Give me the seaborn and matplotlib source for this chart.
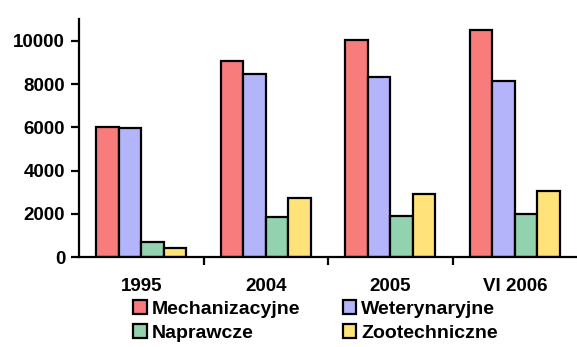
import numpy as np
import pandas as pd
import seaborn as sns
import matplotlib.pyplot as plt
from matplotlib.patches import Patch

# ───── Data ─────
years = ["1995", "2004", "2005", "VI 2006"]
mechanizacyjne = [6000, 9050, 10020, 10500]
weterynaryjne = [5950, 8460, 8340, 8160]
naprawcze = [700, 1860, 1920, 2000]
zootechniczne = [400, 2740, 2940, 3050]

series = ["Mechanizacyjne", "Weterynaryjne", "Naprawcze", "Zootechniczne"]
colors = ["#F87C7C", "#B4B4FA", "#92D2AE", "#FFE27A"]

df = pd.DataFrame({
    "year": years * 4,
    "value": mechanizacyjne + weterynaryjne + naprawcze + zootechniczne,
    "type": [s for s in series for _ in years],
})

# ───── Plot ─────
sns.set_style("white")
plt.rcParams["font.family"] = ["Liberation Sans", "DejaVu Sans"]
plt.rcParams["font.weight"] = "bold"
plt.rcParams["text.color"] = "black"
plt.rcParams["xtick.color"] = "black"
plt.rcParams["ytick.color"] = "black"

fig = plt.figure(figsize=(5.77, 3.47), dpi=100)
ax = fig.add_axes([0.137, 0.259, 0.863, 0.686])

sns.barplot(data=df, x="year", y="value", hue="type", hue_order=series,
            palette=colors, saturation=1, width=0.725, gap=0,
            edgecolor="black", linewidth=1.6, legend=False, ax=ax)

ax.set_xlim(-0.5, 3.5)
ax.set_ylim(0, 11000)
ax.set_yticks(range(0, 10001, 2000))
ax.set_xlabel("")
ax.set_ylabel("")

for side in ["top", "right"]:
    ax.spines[side].set_visible(False)
for side in ["left", "bottom"]:
    ax.spines[side].set_color("black")
    ax.spines[side].set_linewidth(1.6)

ax.set_xticks([0.5, 1.5, 2.5], minor=True)
ax.tick_params(axis="x", which="major", length=0, pad=15, labelsize=13.5)
ax.tick_params(axis="x", which="minor", length=6, width=1.6, color="black",
               direction="out", bottom=True)
ax.tick_params(axis="y", length=6, width=1.6, color="black", direction="out",
               left=True, labelsize=13.5, pad=4)
for lbl in ax.get_xticklabels() + ax.get_yticklabels():
    lbl.set_fontweight("bold")

# legend is filled row-wise in the reference
order = [0, 2, 1, 3]
handles = [Patch(facecolor=colors[i], edgecolor="black", linewidth=1.6,
                 label=series[i]) for i in order]
fig.legend(handles=handles, ncol=2, loc="lower left",
           bbox_to_anchor=(0.2, -0.035), frameon=False,
           prop={"weight": "bold", "size": 14},
           handlelength=0.7, handleheight=0.7, handletextpad=0.25,
           columnspacing=2.2, labelspacing=0.33)

fig.savefig("out.png", dpi=100)
